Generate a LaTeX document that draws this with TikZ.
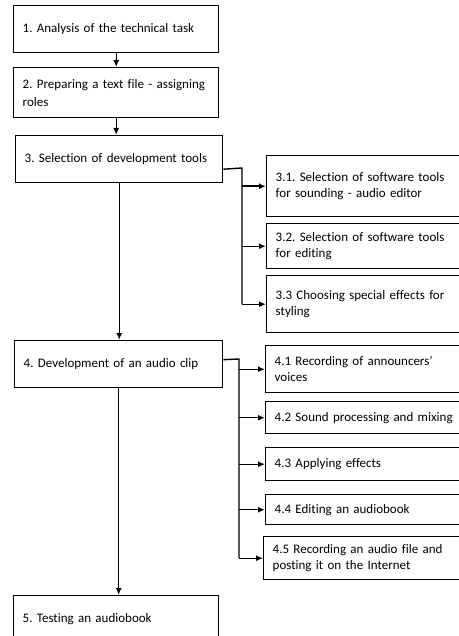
\documentclass[tikz,border=0pt]{standalone}
\usepackage{fontspec}
\setmainfont{Carlito}[Ligatures=NoCommon]
\usetikzlibrary{arrows.meta}
\frenchspacing
\begin{document}
\begin{tikzpicture}[
  x=1pt, y=-1pt,
  block/.style={rectangle, draw, line width=1.4pt, anchor=north west, inner xsep=9pt, inner ysep=0pt, align=left, font=\fontsize{13}{16}\selectfont},
  stage/.style={block, text width=187pt, minimum height=47pt},
  task/.style={block, text width=186pt},
  link/.style={line width=1.4pt, line join=miter},
  arr/.style={link, -{Latex[length=7pt,width=6pt]}}
]
\useasboundingbox (0,0) rectangle (458,636);

% Main stages
\node[stage] (s1) at (13,5) {1. Analysis of the technical task};
\node[stage, minimum height=50pt, font=\fontsize{13}{18}\selectfont] (s2) at (13,67) {2. Preparing a text file - assigning\\roles};
\node[stage, text width=189pt] (s3) at (15,135) {3. Selection of development tools};
\node[stage, text width=190pt] (s4) at (14,340) {4. Development of an audio clip};
\node[stage] (s5) at (13,595) {5. Testing an audiobook};

% Subtasks of stage 3
\node[task, minimum height=61pt] (t31) at (266,155) {3.1. Selection of software tools\\for sounding - audio editor\\[6pt]};
\node[task, minimum height=45pt] (t32) at (266,223) {3.2. Selection of software tools\\for editing};
\node[task, minimum height=57pt] (t33) at (266,275) {3.3 Choosing special effects for\\styling\\[4pt]};

% Subtasks of stage 4
\node[task, minimum height=47pt] (t41) at (265,345) {4.1 Recording of announcers'\\voices};
\node[task, minimum height=32pt] (t42) at (265,401) {4.2 Sound processing and mixing};
\node[task, minimum height=33pt] (t43) at (265,447) {4.3 Applying effects};
\node[task, minimum height=30pt] (t44) at (265,494) {4.4 Editing an audiobook};
\node[task, text width=188pt, minimum height=43pt] (t45) at (263,536) {4.5 Recording an audio file and\\posting it on the Internet};

% Arrows between stages
\draw[arr] (s1.south) -- (s2.north);
\draw[arr] (s2.south) -- (s2.south |- s3.north);
\draw[arr] (s3.south) -- (s3.south |- s4.north);
\draw[arr] (s4.south) -- (s4.south |- s5.north);

% Branch to subtasks of stage 3
\coordinate (bus3) at (242,168);
\draw[link] ([yshift=-10pt]s3.east) -- (bus3) -- (bus3 |- t33.west);
\foreach \t in {t31,t32,t33}
  \draw[arr] (bus3 |- \t.west) -- (\t.west);

% Branch to subtasks of stage 4
\coordinate (bus4) at (239,359);
\draw[link] ([yshift=4.5pt]s4.east) -- (bus4) -- (bus4 |- t45.west);
\foreach \t in {t41,t42,t43,t44,t45}
  \draw[arr] (bus4 |- \t.west) -- (\t.west);
\end{tikzpicture}
\end{document}
